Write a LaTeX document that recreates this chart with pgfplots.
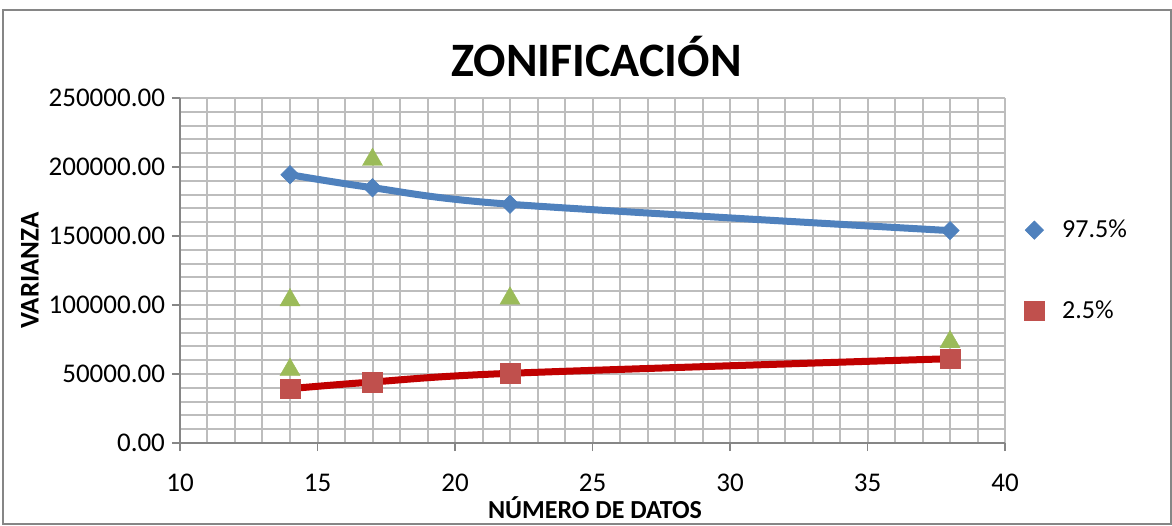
\documentclass[border=0pt]{standalone}
\usepackage{pgfplots}
\pgfplotsset{compat=1.18}
\usepackage{fontspec}
\setmainfont{Carlito}
\definecolor{cblue}{HTML}{4F81BD}
\definecolor{cred}{HTML}{C0504D}
\definecolor{cgreen}{HTML}{9BBB59}
\definecolor{ctrend}{HTML}{C00000}
\definecolor{cgrid}{HTML}{BDBDBD}
\definecolor{caxis}{HTML}{868686}
\begin{document}
\begin{tikzpicture}
\useasboundingbox (0,0) rectangle (586pt,262.5pt);
\draw[caxis, line width=0.8pt] (1.5pt,0.4pt) rectangle (585.6pt,257.5pt);
\begin{axis}[
  at={(90pt,41pt)}, anchor=south west,
  scale only axis, width=412.5pt, height=172.5pt,
  xmin=10, xmax=40, ymin=0, ymax=250000,
  xtick={10,15,...,40}, ytick={0,50000,...,250000},
  minor x tick num=4, minor y tick num=4,
  grid=both,
  major grid style={cgrid, line width=1pt},
  minor grid style={cgrid, line width=1pt},
  axis lines*=left,
  axis line style={caxis, line width=0.9pt},
  tick align=outside, major tick length=4pt, minor tick length=0pt,
  tick style={caxis, line width=0.9pt},
  scaled y ticks=false,
  yticklabel style={/pgf/number format/.cd, fixed, fixed zerofill, precision=2, 1000 sep={}},
  /pgf/number format/assume math mode=true,
  ticklabel style={font=\fontsize{13.5}{15}\selectfont},
  xticklabel style={yshift=-8pt},
  title={\textbf{ZONIFICACIÓN}},
  title style={font=\fontsize{24}{28}\selectfont, at={(axis description cs:0.505,1.085)}, anchor=center},
  xlabel={\textbf{NÚMERO DE DATOS}},
  xlabel style={font=\fontsize{13}{15}\selectfont, at={(axis description cs:0.503,-0.218)}, anchor=base, inner sep=0pt},
  ylabel={\textbf{VARIANZA}},
  ylabel style={font=\fontsize{13.5}{15}\selectfont, at={(axis description cs:-0.182,0.5)}, anchor=center, rotate=0},
  legend style={draw=none, fill=none, at={(axis description cs:1.016,0.5)}, anchor=west,
    row sep=26pt, font=\fontsize{13}{15}\selectfont,
    /tikz/every odd column/.append style={column sep=7pt}},
  legend cell align=left,
]
\addplot[only marks, mark=square*, mark size=3.2pt, mark options={rotate=45, fill=cblue, draw=cblue}]
  coordinates {(14,194400) (17,185000) (22,173000) (38,153900)};
\addlegendentry{97.5\%}
\addplot[only marks, mark=square*, mark size=4.9pt, mark options={fill=cred, draw=cred, line width=0.3pt}]
  coordinates {(14,39400) (17,44200) (22,50500) (38,61100)};
\addlegendentry{2.5\%}
\addplot[only marks, forget plot, mark=triangle*, mark size=5.8pt, mark options={fill=cgreen, draw=cgreen, line width=0.2pt}]
  coordinates {(14,103600) (14,53100) (17,205300) (22,104800) (38,73200)};
\addplot[forget plot, cblue, line width=3.5pt, smooth, line cap=round]
  coordinates {(14,194400) (17,185000) (22,173000) (38,153900)};
\addplot[forget plot, ctrend, line width=3.5pt, smooth, line cap=round]
  coordinates {(14,39400) (17,44200) (22,50500) (38,61100)};
\end{axis}
\end{tikzpicture}
\end{document}
